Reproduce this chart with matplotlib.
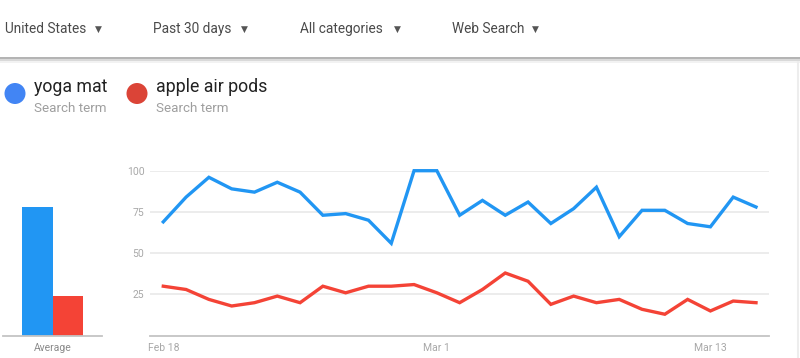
import matplotlib.pyplot as plt
import numpy as np
from matplotlib.patches import Circle, Rectangle

plt.rcParams['font.family'] = ['Roboto', 'DejaVu Sans']

# Google Trends, past 30 days (Feb 18 - Mar 15, 2020)
dates = np.arange('2020-02-18', '2020-03-16', dtype='datetime64[D]')
yoga_mat = [69, 84, 96, 89, 87, 93, 87, 73, 74, 70, 56, 100, 100,
            73, 82, 73, 81, 68, 77, 90, 60, 76, 76, 68, 66, 84, 78]
air_pods = [30, 28, 22, 18, 20, 24, 20, 30, 26, 30, 30, 31, 26,
            20, 28, 38, 33, 19, 24, 20, 22, 16, 13, 22, 15, 21, 20]
averages = [78, 24]
terms = ['yoga mat', 'apple air pods']
filters = ['United States', 'Past 30 days', 'All categories', 'Web Search']
tick_dates = ['2020-02-18', '2020-03-01', '2020-03-13']
tick_labels = ['Feb 18', 'Mar 1', 'Mar 13']
y_ticks = [25, 50, 75, 100]

W, H = 800, 358
line_colors = ['#2196f3', '#f44336']
dot_colors = ['#4285f4', '#db4437']
grid_color = '#ebebeb'
tick_color = '#a8a8a8'

fig = plt.figure(figsize=(W / 100, H / 100), dpi=100)


def px(x0, y0, x1, y1):
	# pixel box (top-left origin) -> figure fraction rect
	return [x0 / W, 1 - y1 / H, (x1 - x0) / W, (y1 - y0) / H]


# Background / header
bg = fig.add_axes([0, 0, 1, 1])
bg.set_xlim(0, W)
bg.set_ylim(H, 0)
bg.axis('off')
bg.add_patch(Rectangle((0, 56.5), W, 2.5, color='#b4b4b4', lw=0))
bg.add_patch(Rectangle((0, 59), W, 1.5, color='#d9d9d9', lw=0))
bg.add_patch(Rectangle((0, 60.5), W, 2.5, color='#f2f2f2', lw=0))
bg.plot([797.5, 797.5], [62, H], color='#ededed', lw=1.5)

filter_x = [5, 153, 300, 452]
arrow_x = [98, 244, 397, 535]
for label, fx, ax_ in zip(filters, filter_x, arrow_x):
	bg.text(fx, 29, label, fontsize=9.8, color='#4a4a4a', va='center', ha='left')
	bg.text(ax_, 29, '\u25bc', fontsize=6.5, color='#555555', va='center', ha='center',
			family=['DejaVu Sans'])

# Legend
legend_x = [15, 137]
for term, lx, c in zip(terms, legend_x, dot_colors):
	bg.add_patch(Circle((lx, 93.5), 10.5, color=c, lw=0))
	bg.text(lx + 19, 87.5, term, fontsize=12.8, color='#222222', va='center', ha='left')
	bg.text(lx + 19, 108, 'Search term', fontsize=9.6, color='#9e9e9e', va='center', ha='left')

# Average bars
axb = fig.add_axes(px(3, 170.7, 102, 335.7))
axb.bar([0, 1], averages, width=1, color=line_colors)
axb.set_xlim(-1.14, 2.14)
axb.set_ylim(0, 100)
for s in ['top', 'right', 'left']:
	axb.spines[s].set_visible(False)
axb.spines['bottom'].set_color('#c4c4c4')
axb.spines['bottom'].set_linewidth(1.3)
axb.set_yticks([])
axb.set_xticks([0.5])
axb.set_xticklabels(['Average'])
axb.tick_params(axis='x', length=0, pad=5, labelsize=7.5, labelcolor='#8a8a8a')

# Line chart
ax = fig.add_axes(px(150, 170.7, 769, 335.7))
x = np.arange(len(dates))
for series, c in zip([yoga_mat, air_pods], line_colors):
	ax.plot(x, series, color=c, lw=2.4, solid_joinstyle='miter', clip_on=False, zorder=3)
ax.set_xlim(-0.583, 26.57)
ax.set_ylim(0, 100)
for yv in y_ticks:
	ax.axhline(yv, color=grid_color, lw=1.3, zorder=1)
for s in ['top', 'right', 'left']:
	ax.spines[s].set_visible(False)
ax.spines['bottom'].set_color('#c4c4c4')
ax.spines['bottom'].set_linewidth(1.3)
ax.set_yticks(y_ticks)
ax.set_yticklabels([str(v) for v in y_ticks])
ax.set_xticks([int(np.where(dates == np.datetime64(d))[0][0]) for d in tick_dates])
ax.set_xticklabels(tick_labels)
ax.tick_params(axis='both', length=0, labelsize=7.5, labelcolor=tick_color)
ax.tick_params(axis='y', pad=4)
ax.tick_params(axis='x', pad=5)

fig.savefig('out.png', dpi=100)
